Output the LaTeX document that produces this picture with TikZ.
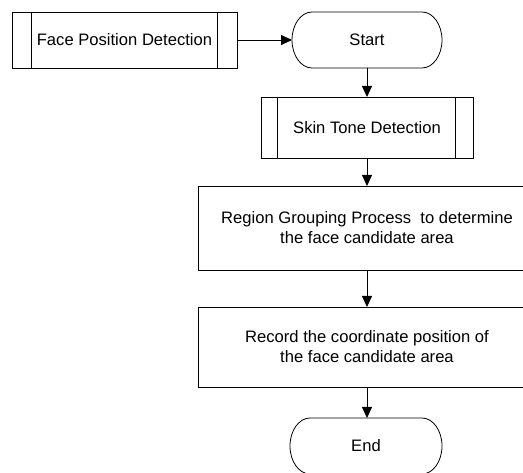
\documentclass[tikz,border=0pt]{standalone}
\usepackage{fontspec}
\setmainfont{Liberation Sans}
\usetikzlibrary{arrows.meta}
\begin{document}
\begin{tikzpicture}[x=1pt,y=1pt,
  every node/.style={font=\fontsize{16.6}{20}\selectfont, inner sep=0pt, outer sep=0pt, align=center},
  line/.style={line width=0.8pt, draw=black},
  arr/.style={line, -{Triangle[length=11pt,width=10pt]}},
  procbox/.style={line, rectangle},
  termbox/.style={rectangle, draw=none},
]
\useasboundingbox (0,0) rectangle (523,-473);

% Face Position Detection (predefined process)
\node[procbox, minimum width=225pt, minimum height=56pt] (face) at (124.5,-40) {Face Position Detection};
\draw[line] ([xshift=19pt]face.north west) -- ([xshift=19pt]face.south west);
\draw[line] ([xshift=-20pt]face.north east) -- ([xshift=-20pt]face.south east);

% Start terminal
\node[termbox, minimum width=150pt, minimum height=56pt] (start) at (367,-40) {Start};
\draw[line] ([xshift=20pt]start.north west) -- ([xshift=-20pt]start.north east)
  arc[start angle=90, end angle=-90, x radius=20pt, y radius=28pt]
  -- ([xshift=20pt]start.south west)
  arc[start angle=270, end angle=90, x radius=20pt, y radius=28pt] -- cycle;

% Skin Tone Detection (predefined process)
\node[procbox, minimum width=212pt, minimum height=61pt] (skin) at (367,-127.5) {Skin Tone Detection};
\draw[line] ([xshift=16pt]skin.north west) -- ([xshift=16pt]skin.south west);
\draw[line] ([xshift=-18pt]skin.north east) -- ([xshift=-18pt]skin.south east);

% Region grouping
\node[procbox, minimum width=338pt, minimum height=84pt] (region) at (367,-228)
  {Region Grouping Process~ to determine\\the face candidate area};

% Record
\node[procbox, minimum width=338pt, minimum height=80pt] (record) at (367,-347)
  {Record the coordinate position of\\the face candidate area};

% End terminal
\node[termbox, minimum width=152pt, minimum height=56pt] (end) at (366,-446) {End};
\draw[line] ([xshift=20pt]end.north west) -- ([xshift=-20pt]end.north east)
  arc[start angle=90, end angle=-90, x radius=20pt, y radius=28pt]
  -- ([xshift=20pt]end.south west)
  arc[start angle=270, end angle=90, x radius=20pt, y radius=28pt] -- cycle;

% Connectors
\draw[arr] (face.east) -- (start.west);
\draw[arr] (start.south) -- (skin.north);
\draw[arr] (skin.south) -- (region.north);
\draw[arr] (region.south) -- (record.north);
\draw[arr] (record.south) -- (record.south |- end.north);
\end{tikzpicture}
\end{document}
